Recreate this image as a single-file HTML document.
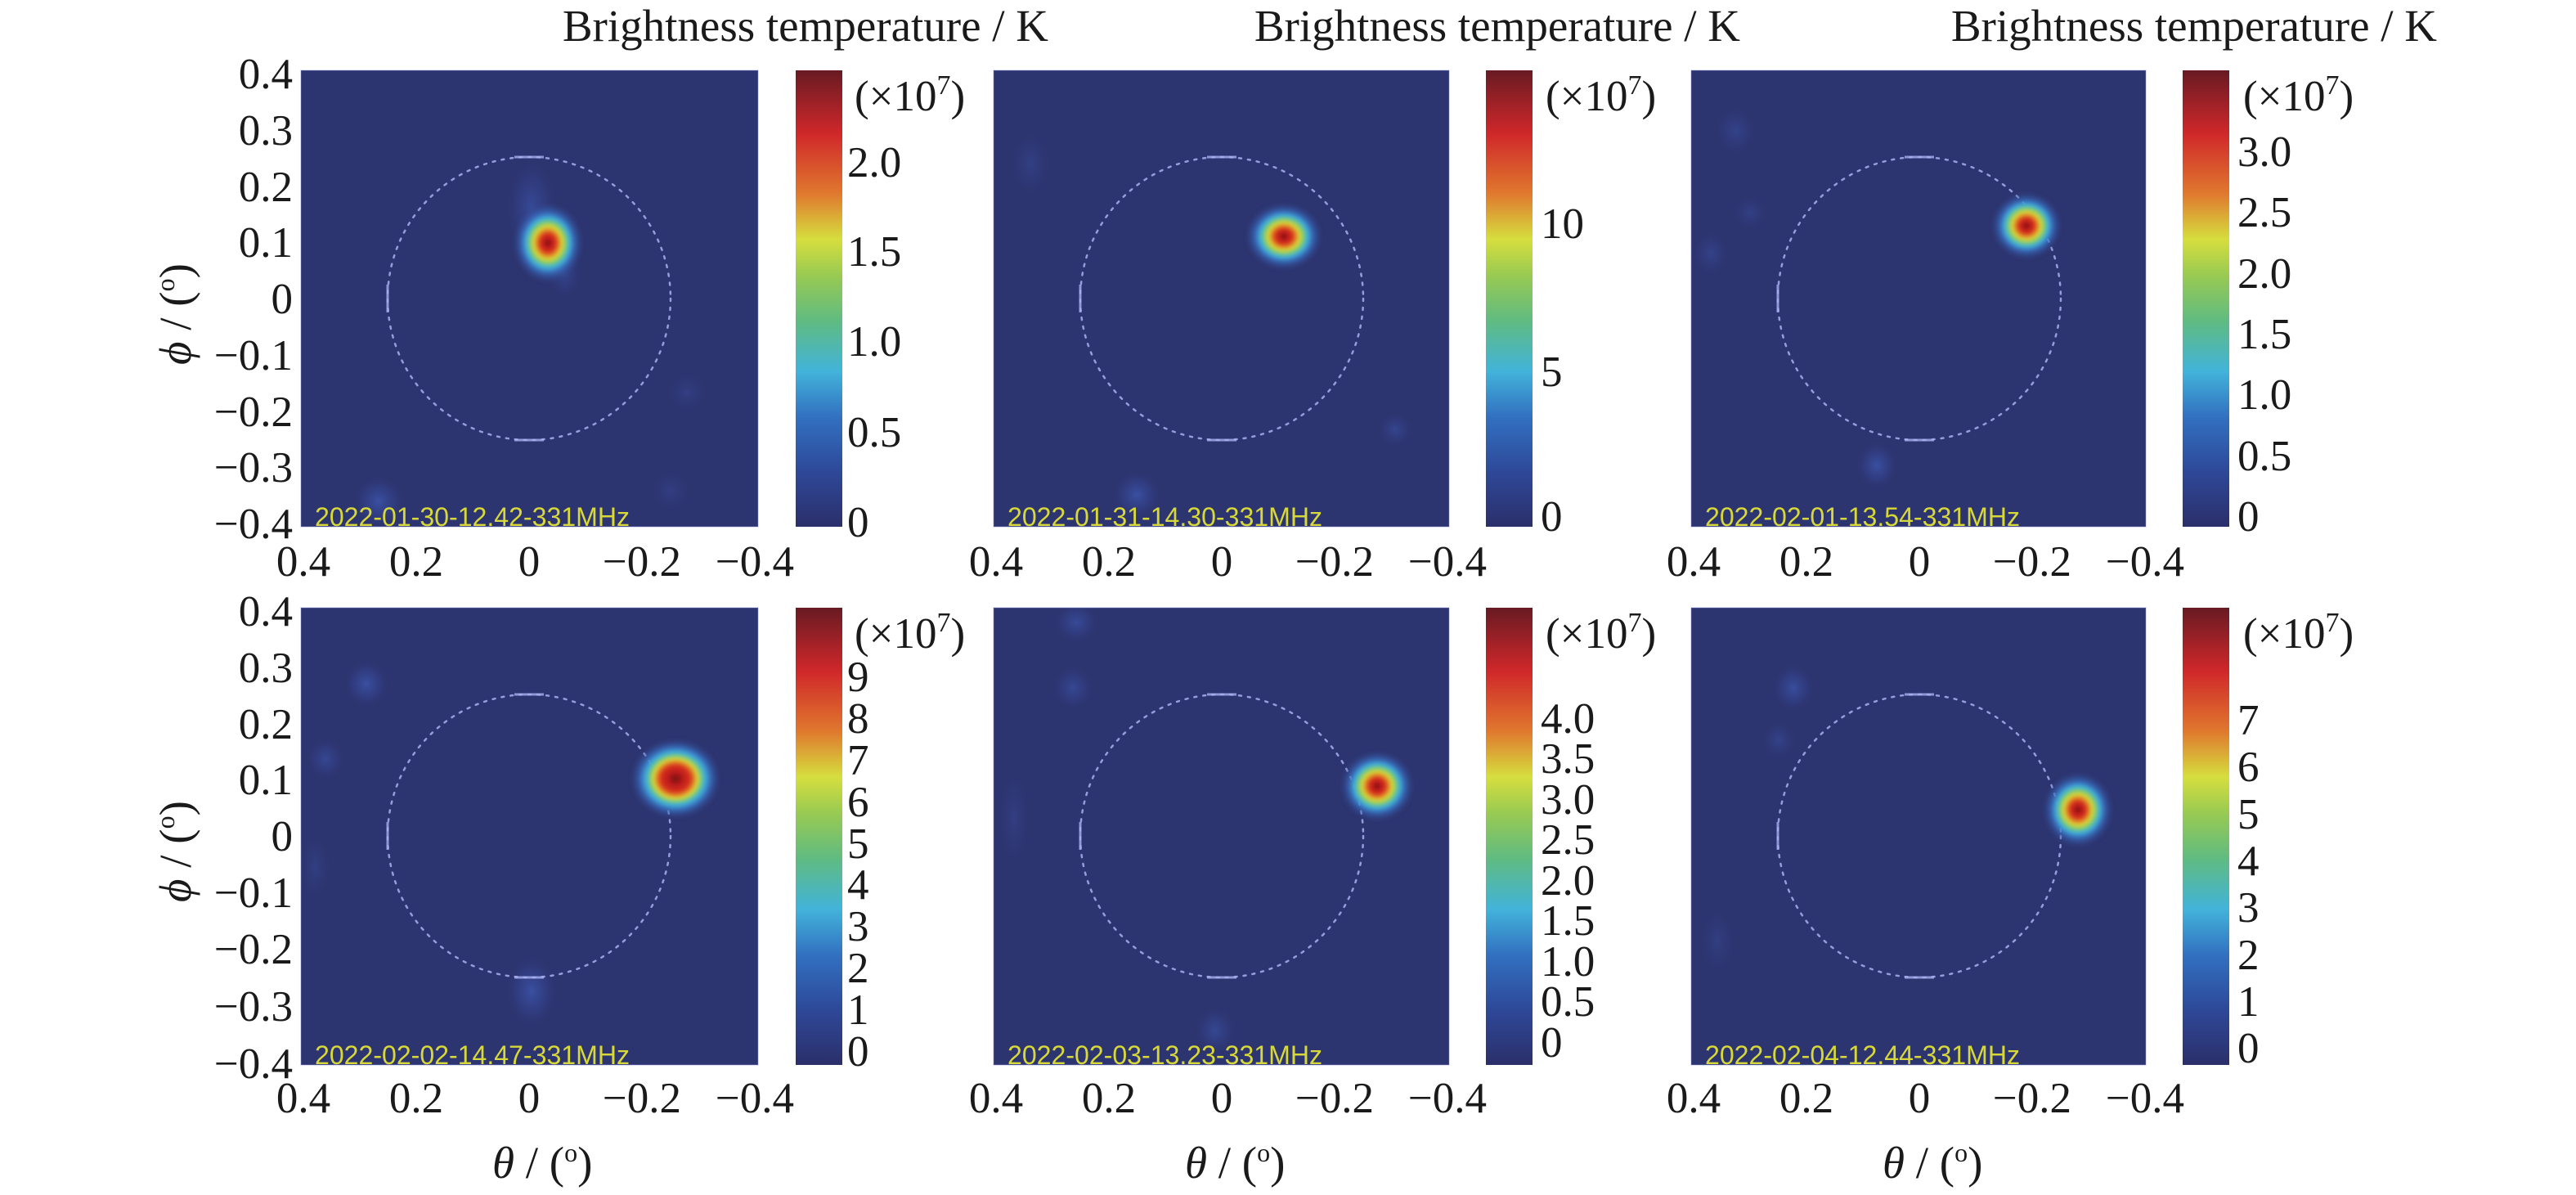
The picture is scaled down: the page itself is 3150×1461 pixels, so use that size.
<!DOCTYPE html>
<html>
<head>
<meta charset="utf-8">
<style>
  html,body{margin:0;padding:0;background:#fff;}
  svg{display:block;}
  .tk{font-family:"Liberation Serif",serif;font-size:53px;fill:#1a1a1a;}
  .ttl{font-family:"Liberation Serif",serif;font-size:55px;fill:#1a1a1a;}
  .ts{font-family:"Liberation Sans",sans-serif;font-size:32px;fill:#d8d838;}
</style>
</head>
<body>
<svg width="3150" height="1461" viewBox="0 0 3150 1461" xmlns="http://www.w3.org/2000/svg">
<defs>
  <linearGradient id="jet" x1="0" y1="0" x2="0" y2="1">
    <stop offset="0" stop-color="#681a22"/>
    <stop offset="0.06" stop-color="#952026"/>
    <stop offset="0.14" stop-color="#d0282a"/>
    <stop offset="0.27" stop-color="#e0782e"/>
    <stop offset="0.37" stop-color="#d6de3e"/>
    <stop offset="0.45" stop-color="#98ca52"/>
    <stop offset="0.55" stop-color="#5fbb82"/>
    <stop offset="0.66" stop-color="#42b3da"/>
    <stop offset="0.76" stop-color="#3270c0"/>
    <stop offset="0.88" stop-color="#2e4898"/>
    <stop offset="1" stop-color="#2b2f6a"/>
  </linearGradient>
  <radialGradient id="src">
    <stop offset="0" stop-color="#6e1212"/>
    <stop offset="0.1" stop-color="#b81a1a"/>
    <stop offset="0.22" stop-color="#d8301e"/>
    <stop offset="0.32" stop-color="#e08a28"/>
    <stop offset="0.4" stop-color="#d8d838"/>
    <stop offset="0.48" stop-color="#8ccc58"/>
    <stop offset="0.56" stop-color="#4cbcb0"/>
    <stop offset="0.62" stop-color="#40a8dc"/>
    <stop offset="0.72" stop-color="#3a78c8" stop-opacity="0.8"/>
    <stop offset="0.85" stop-color="#3458a8" stop-opacity="0.45"/>
    <stop offset="1" stop-color="#2d3570" stop-opacity="0"/>
  </radialGradient>
  <radialGradient id="srcBig">
    <stop offset="0" stop-color="#6e1212"/>
    <stop offset="0.15" stop-color="#b81a1a"/>
    <stop offset="0.32" stop-color="#d8301e"/>
    <stop offset="0.42" stop-color="#e08a28"/>
    <stop offset="0.48" stop-color="#d8d838"/>
    <stop offset="0.54" stop-color="#8ccc58"/>
    <stop offset="0.6" stop-color="#4cbcb0"/>
    <stop offset="0.66" stop-color="#40a8dc"/>
    <stop offset="0.76" stop-color="#3a78c8" stop-opacity="0.8"/>
    <stop offset="0.88" stop-color="#3458a8" stop-opacity="0.4"/>
    <stop offset="1" stop-color="#2d3570" stop-opacity="0"/>
  </radialGradient>
  <radialGradient id="glow">
    <stop offset="0" stop-color="#3f5cb8" stop-opacity="0.7"/>
    <stop offset="0.6" stop-color="#37489a" stop-opacity="0.35"/>
    <stop offset="1" stop-color="#2d3570" stop-opacity="0"/>
  </radialGradient>
  <filter id="soft" x="-20%" y="-20%" width="140%" height="140%"><feGaussianBlur stdDeviation="2"/></filter>
  <clipPath id="c1"><rect x="368" y="86" width="559" height="558"/></clipPath>
  <clipPath id="c2"><rect x="1215" y="86" width="557" height="558"/></clipPath>
  <clipPath id="c3"><rect x="2068" y="86" width="556" height="558"/></clipPath>
  <clipPath id="c4"><rect x="368" y="743" width="559" height="559"/></clipPath>
  <clipPath id="c5"><rect x="1215" y="743" width="557" height="559"/></clipPath>
  <clipPath id="c6"><rect x="2068" y="743" width="556" height="559"/></clipPath>
</defs>

<!-- Titles -->
<text class="ttl" x="1282" y="50" text-anchor="end">Brightness temperature / K</text>
<text class="ttl" x="2128" y="50" text-anchor="end">Brightness temperature / K</text>
<text class="ttl" x="2980" y="50" text-anchor="end">Brightness temperature / K</text>

<!-- ===== Panel 1 ===== -->
<g clip-path="url(#c1)">
  <rect x="368" y="86" width="559" height="558" fill="#2d3570"/>
  <ellipse cx="463" cy="613" rx="32" ry="32" fill="url(#glow)"/>
  <ellipse cx="650" cy="255" rx="32" ry="62" fill="url(#glow)" opacity="0.8"/>
  <ellipse cx="690" cy="335" rx="22" ry="30" fill="url(#glow)" opacity="0.6"/>
  <ellipse cx="840" cy="480" rx="25" ry="25" fill="url(#glow)" opacity="0.35"/>
  <ellipse cx="820" cy="600" rx="25" ry="25" fill="url(#glow)" opacity="0.35"/>
  <circle cx="647" cy="365" r="173" fill="none" stroke="#a8b0f0" stroke-width="2.5" stroke-dasharray="3 8" stroke-linecap="round" opacity="0.85"/>
  <line x1="629" y1="192" x2="665" y2="192" stroke="#a8b0f0" stroke-width="3" opacity="0.8"/>
  <line x1="629" y1="538" x2="665" y2="538" stroke="#a8b0f0" stroke-width="3" opacity="0.8"/>
  <line x1="474" y1="348" x2="474" y2="382" stroke="#a8b0f0" stroke-width="3" opacity="0.8"/>
  <ellipse cx="670" cy="297" rx="44" ry="50" fill="url(#src)" filter="url(#soft)"/>
  <text class="ts" x="385" y="643" textLength="385" lengthAdjust="spacingAndGlyphs">2022-01-30-12.42-331MHz</text>
</g>
<rect x="368" y="86" width="559" height="558" fill="none" stroke="#8a92d0" stroke-width="1.5" opacity="0.35"/>

<!-- ===== Panel 2 ===== -->
<g clip-path="url(#c2)">
  <rect x="1215" y="86" width="557" height="558" fill="#2d3570"/>
  <ellipse cx="1390" cy="605" rx="30" ry="30" fill="url(#glow)"/>
  <ellipse cx="1706" cy="525" rx="22" ry="22" fill="url(#glow)" opacity="0.6"/>
  <ellipse cx="1260" cy="200" rx="25" ry="40" fill="url(#glow)" opacity="0.4"/>
  <circle cx="1494" cy="365" r="173" fill="none" stroke="#a8b0f0" stroke-width="2.5" stroke-dasharray="3 8" stroke-linecap="round" opacity="0.85"/>
  <line x1="1476" y1="192" x2="1512" y2="192" stroke="#a8b0f0" stroke-width="3" opacity="0.8"/>
  <line x1="1476" y1="538" x2="1512" y2="538" stroke="#a8b0f0" stroke-width="3" opacity="0.8"/>
  <line x1="1321" y1="348" x2="1321" y2="382" stroke="#a8b0f0" stroke-width="3" opacity="0.8"/>
  <ellipse cx="1570" cy="289" rx="48" ry="42" fill="url(#src)" filter="url(#soft)"/>
  <text class="ts" x="1232" y="643" textLength="385" lengthAdjust="spacingAndGlyphs">2022-01-31-14.30-331MHz</text>
</g>
<rect x="1215" y="86" width="557" height="558" fill="none" stroke="#8a92d0" stroke-width="1.5" opacity="0.35"/>

<!-- ===== Panel 3 ===== -->
<g clip-path="url(#c3)">
  <rect x="2068" y="86" width="556" height="558" fill="#2d3570"/>
  <ellipse cx="2295" cy="569" rx="26" ry="30" fill="url(#glow)"/>
  <ellipse cx="2122" cy="160" rx="26" ry="30" fill="url(#glow)" opacity="0.5"/>
  <ellipse cx="2092" cy="310" rx="22" ry="28" fill="url(#glow)" opacity="0.5"/>
  <ellipse cx="2140" cy="260" rx="22" ry="22" fill="url(#glow)" opacity="0.4"/>
  <circle cx="2347" cy="365" r="173" fill="none" stroke="#a8b0f0" stroke-width="2.5" stroke-dasharray="3 8" stroke-linecap="round" opacity="0.85"/>
  <line x1="2329" y1="192" x2="2365" y2="192" stroke="#a8b0f0" stroke-width="3" opacity="0.8"/>
  <line x1="2329" y1="538" x2="2365" y2="538" stroke="#a8b0f0" stroke-width="3" opacity="0.8"/>
  <line x1="2174" y1="348" x2="2174" y2="382" stroke="#a8b0f0" stroke-width="3" opacity="0.8"/>
  <ellipse cx="2478" cy="276" rx="44" ry="42" fill="url(#src)" filter="url(#soft)"/>
  <text class="ts" x="2085" y="643" textLength="385" lengthAdjust="spacingAndGlyphs">2022-02-01-13.54-331MHz</text>
</g>
<rect x="2068" y="86" width="556" height="558" fill="none" stroke="#8a92d0" stroke-width="1.5" opacity="0.35"/>

<!-- ===== Panel 4 ===== -->
<g clip-path="url(#c4)">
  <rect x="368" y="743" width="559" height="559" fill="#2d3570"/>
  <ellipse cx="448" cy="836" rx="28" ry="30" fill="url(#glow)"/>
  <ellipse cx="398" cy="928" rx="24" ry="26" fill="url(#glow)" opacity="0.7"/>
  <ellipse cx="650" cy="1212" rx="32" ry="45" fill="url(#glow)"/>
  <ellipse cx="385" cy="1060" rx="20" ry="40" fill="url(#glow)" opacity="0.35"/>
  <circle cx="647" cy="1022" r="173" fill="none" stroke="#a8b0f0" stroke-width="2.5" stroke-dasharray="3 8" stroke-linecap="round" opacity="0.85"/>
  <line x1="629" y1="849" x2="665" y2="849" stroke="#a8b0f0" stroke-width="3" opacity="0.8"/>
  <line x1="629" y1="1195" x2="665" y2="1195" stroke="#a8b0f0" stroke-width="3" opacity="0.8"/>
  <line x1="474" y1="1005" x2="474" y2="1039" stroke="#a8b0f0" stroke-width="3" opacity="0.8"/>
  <ellipse cx="826" cy="952" rx="56" ry="50" fill="url(#srcBig)" filter="url(#soft)"/>
  <text class="ts" x="385" y="1301" textLength="385" lengthAdjust="spacingAndGlyphs">2022-02-02-14.47-331MHz</text>
</g>
<rect x="368" y="743" width="559" height="559" fill="none" stroke="#8a92d0" stroke-width="1.5" opacity="0.35"/>

<!-- ===== Panel 5 ===== -->
<g clip-path="url(#c5)">
  <rect x="1215" y="743" width="557" height="559" fill="#2d3570"/>
  <ellipse cx="1316" cy="761" rx="28" ry="26" fill="url(#glow)" opacity="0.8"/>
  <ellipse cx="1312" cy="841" rx="26" ry="28" fill="url(#glow)" opacity="0.7"/>
  <ellipse cx="1486" cy="1260" rx="26" ry="30" fill="url(#glow)" opacity="0.7"/>
  <ellipse cx="1240" cy="1000" rx="20" ry="60" fill="url(#glow)" opacity="0.35"/>
  <circle cx="1494" cy="1022" r="173" fill="none" stroke="#a8b0f0" stroke-width="2.5" stroke-dasharray="3 8" stroke-linecap="round" opacity="0.85"/>
  <line x1="1476" y1="849" x2="1512" y2="849" stroke="#a8b0f0" stroke-width="3" opacity="0.8"/>
  <line x1="1476" y1="1195" x2="1512" y2="1195" stroke="#a8b0f0" stroke-width="3" opacity="0.8"/>
  <line x1="1321" y1="1005" x2="1321" y2="1039" stroke="#a8b0f0" stroke-width="3" opacity="0.8"/>
  <ellipse cx="1684" cy="961" rx="46" ry="44" fill="url(#src)" filter="url(#soft)"/>
  <text class="ts" x="1232" y="1301" textLength="385" lengthAdjust="spacingAndGlyphs">2022-02-03-13.23-331MHz</text>
</g>
<rect x="1215" y="743" width="557" height="559" fill="none" stroke="#8a92d0" stroke-width="1.5" opacity="0.35"/>

<!-- ===== Panel 6 ===== -->
<g clip-path="url(#c6)">
  <rect x="2068" y="743" width="556" height="559" fill="#2d3570"/>
  <ellipse cx="2193" cy="841" rx="26" ry="30" fill="url(#glow)" opacity="0.9"/>
  <ellipse cx="2175" cy="905" rx="22" ry="24" fill="url(#glow)" opacity="0.5"/>
  <ellipse cx="2100" cy="1150" rx="22" ry="40" fill="url(#glow)" opacity="0.35"/>
  <circle cx="2347" cy="1022" r="173" fill="none" stroke="#a8b0f0" stroke-width="2.5" stroke-dasharray="3 8" stroke-linecap="round" opacity="0.85"/>
  <line x1="2329" y1="849" x2="2365" y2="849" stroke="#a8b0f0" stroke-width="3" opacity="0.8"/>
  <line x1="2329" y1="1195" x2="2365" y2="1195" stroke="#a8b0f0" stroke-width="3" opacity="0.8"/>
  <line x1="2174" y1="1005" x2="2174" y2="1039" stroke="#a8b0f0" stroke-width="3" opacity="0.8"/>
  <ellipse cx="2541" cy="990" rx="44" ry="47" fill="url(#src)" filter="url(#soft)"/>
  <text class="ts" x="2085" y="1301" textLength="385" lengthAdjust="spacingAndGlyphs">2022-02-04-12.44-331MHz</text>
</g>
<rect x="2068" y="743" width="556" height="559" fill="none" stroke="#8a92d0" stroke-width="1.5" opacity="0.35"/>

<!-- ===== Colorbars ===== -->
<g>
  <rect x="973" y="86" width="57" height="558" fill="url(#jet)"/>
  <rect x="1817" y="86" width="57" height="558" fill="url(#jet)"/>
  <rect x="2669" y="86" width="57" height="558" fill="url(#jet)"/>
  <rect x="973" y="743" width="57" height="559" fill="url(#jet)"/>
  <rect x="1817" y="743" width="57" height="559" fill="url(#jet)"/>
  <rect x="2669" y="743" width="57" height="559" fill="url(#jet)"/>
</g>

<!-- Colorbar multipliers -->
<g class="tk">
  <text x="1045" y="135">(×10<tspan font-size="34" dy="-20">7</tspan><tspan dy="20">)</tspan></text>
  <text x="1890" y="135">(×10<tspan font-size="34" dy="-20">7</tspan><tspan dy="20">)</tspan></text>
  <text x="2743" y="135">(×10<tspan font-size="34" dy="-20">7</tspan><tspan dy="20">)</tspan></text>
  <text x="1045" y="792">(×10<tspan font-size="34" dy="-20">7</tspan><tspan dy="20">)</tspan></text>
  <text x="1890" y="792">(×10<tspan font-size="34" dy="-20">7</tspan><tspan dy="20">)</tspan></text>
  <text x="2743" y="792">(×10<tspan font-size="34" dy="-20">7</tspan><tspan dy="20">)</tspan></text>
</g>

<!-- Colorbar tick labels -->
<g class="tk">
  <text x="1036" y="216">2.0</text>
  <text x="1036" y="325">1.5</text>
  <text x="1036" y="435">1.0</text>
  <text x="1036" y="546">0.5</text>
  <text x="1036" y="656">0</text>

  <text x="1884" y="291">10</text>
  <text x="1884" y="472">5</text>
  <text x="1884" y="649">0</text>

  <text x="2736" y="203">3.0</text>
  <text x="2736" y="277">2.5</text>
  <text x="2736" y="352">2.0</text>
  <text x="2736" y="426">1.5</text>
  <text x="2736" y="500">1.0</text>
  <text x="2736" y="575">0.5</text>
  <text x="2736" y="649">0</text>

  <text x="1036" y="845">9</text>
  <text x="1036" y="896">8</text>
  <text x="1036" y="947">7</text>
  <text x="1036" y="998">6</text>
  <text x="1036" y="1049">5</text>
  <text x="1036" y="1099">4</text>
  <text x="1036" y="1150">3</text>
  <text x="1036" y="1201">2</text>
  <text x="1036" y="1252">1</text>
  <text x="1036" y="1303">0</text>

  <text x="1884" y="896">4.0</text>
  <text x="1884" y="945">3.5</text>
  <text x="1884" y="995">3.0</text>
  <text x="1884" y="1044">2.5</text>
  <text x="1884" y="1094">2.0</text>
  <text x="1884" y="1143">1.5</text>
  <text x="1884" y="1193">1.0</text>
  <text x="1884" y="1242">0.5</text>
  <text x="1884" y="1292">0</text>

  <text x="2736" y="898">7</text>
  <text x="2736" y="955">6</text>
  <text x="2736" y="1013">5</text>
  <text x="2736" y="1070">4</text>
  <text x="2736" y="1127">3</text>
  <text x="2736" y="1185">2</text>
  <text x="2736" y="1242">1</text>
  <text x="2736" y="1299">0</text>
</g>

<!-- Y tick labels -->
<g class="tk" text-anchor="end">
  <text x="358" y="108">0.4</text>
  <text x="358" y="177">0.3</text>
  <text x="358" y="246">0.2</text>
  <text x="358" y="314">0.1</text>
  <text x="358" y="383">0</text>
  <text x="358" y="452">−0.1</text>
  <text x="358" y="521">−0.2</text>
  <text x="358" y="589">−0.3</text>
  <text x="358" y="658">−0.4</text>

  <text x="358" y="765">0.4</text>
  <text x="358" y="834">0.3</text>
  <text x="358" y="903">0.2</text>
  <text x="358" y="971">0.1</text>
  <text x="358" y="1040">0</text>
  <text x="358" y="1109">−0.1</text>
  <text x="358" y="1178">−0.2</text>
  <text x="358" y="1248">−0.3</text>
  <text x="358" y="1318">−0.4</text>
</g>

<!-- X tick labels -->
<g class="tk" text-anchor="middle">
  <text x="371" y="704">0.4</text><text x="509" y="704">0.2</text><text x="647" y="704">0</text><text x="785" y="704">−0.2</text><text x="923" y="704">−0.4</text>
  <text x="1218" y="704">0.4</text><text x="1356" y="704">0.2</text><text x="1494" y="704">0</text><text x="1632" y="704">−0.2</text><text x="1770" y="704">−0.4</text>
  <text x="2071" y="704">0.4</text><text x="2209" y="704">0.2</text><text x="2347" y="704">0</text><text x="2485" y="704">−0.2</text><text x="2623" y="704">−0.4</text>

  <text x="371" y="1360">0.4</text><text x="509" y="1360">0.2</text><text x="647" y="1360">0</text><text x="785" y="1360">−0.2</text><text x="923" y="1360">−0.4</text>
  <text x="1218" y="1360">0.4</text><text x="1356" y="1360">0.2</text><text x="1494" y="1360">0</text><text x="1632" y="1360">−0.2</text><text x="1770" y="1360">−0.4</text>
  <text x="2071" y="1360">0.4</text><text x="2209" y="1360">0.2</text><text x="2347" y="1360">0</text><text x="2485" y="1360">−0.2</text><text x="2623" y="1360">−0.4</text>
</g>

<!-- Axis labels -->
<g class="ttl">
  <text x="233" y="384" text-anchor="middle" transform="rotate(-90 233 384)"><tspan font-style="italic">ϕ</tspan> / (<tspan font-size="32" dy="-20">o</tspan><tspan dy="20">)</tspan></text>
  <text x="233" y="1041" text-anchor="middle" transform="rotate(-90 233 1041)"><tspan font-style="italic">ϕ</tspan> / (<tspan font-size="32" dy="-20">o</tspan><tspan dy="20">)</tspan></text>
  <text x="602" y="1440"><tspan font-style="italic">θ</tspan> / (<tspan font-size="32" dy="-20">o</tspan><tspan dy="20">)</tspan></text>
  <text x="1449" y="1440"><tspan font-style="italic">θ</tspan> / (<tspan font-size="32" dy="-20">o</tspan><tspan dy="20">)</tspan></text>
  <text x="2302" y="1440"><tspan font-style="italic">θ</tspan> / (<tspan font-size="32" dy="-20">o</tspan><tspan dy="20">)</tspan></text>
</g>
</svg>
</body>
</html>
